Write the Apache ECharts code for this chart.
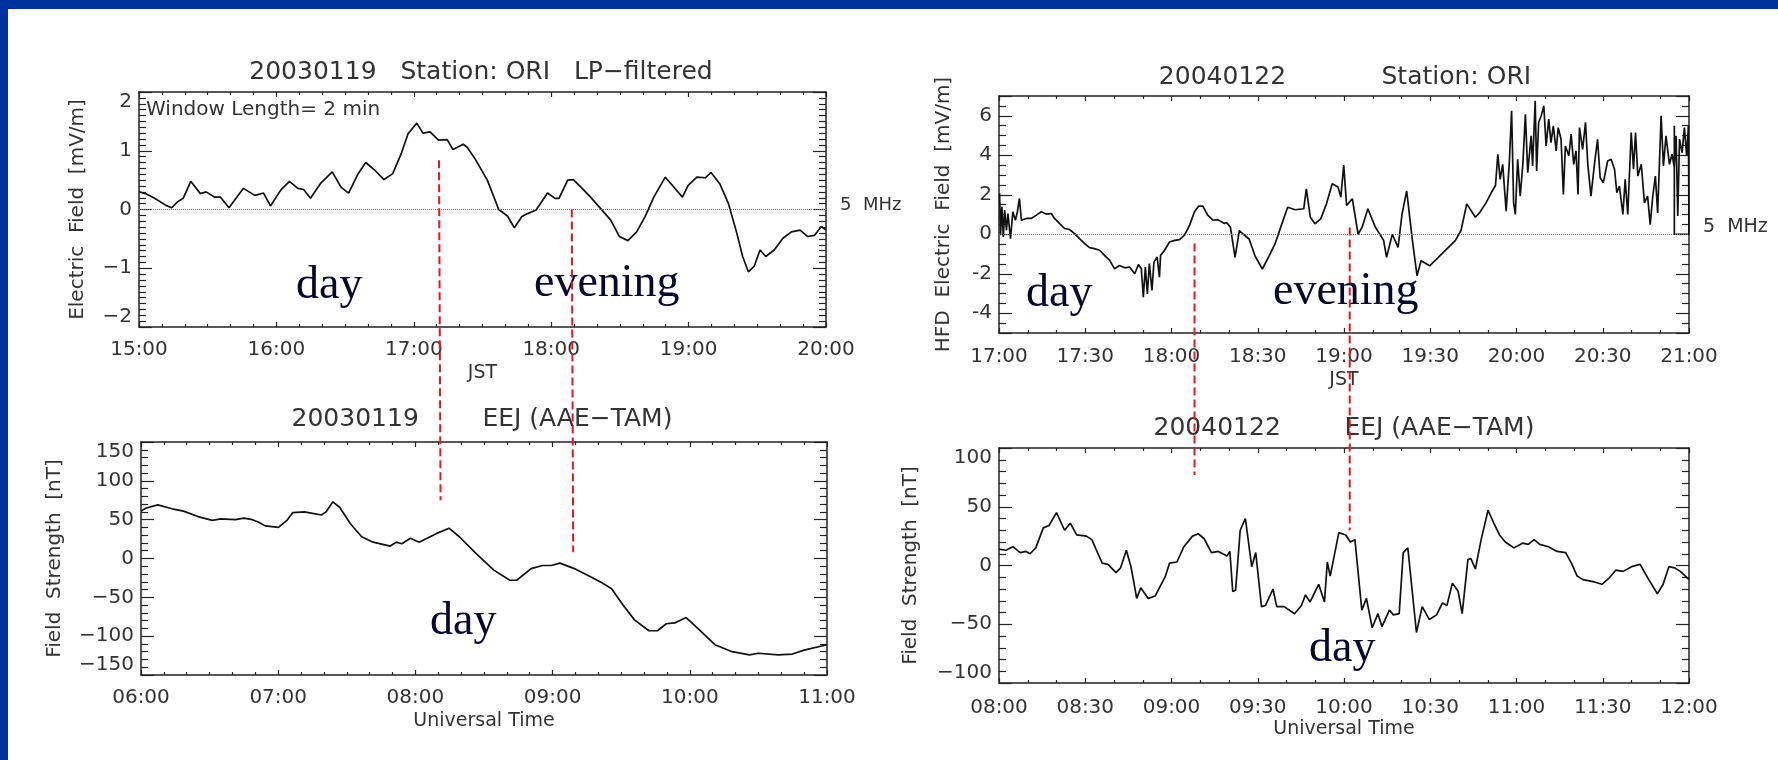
<!DOCTYPE html>
<html>
<head>
<meta charset="utf-8">
<title>ORI electric field and EEJ</title>
<script src="https://cdn.jsdelivr.net/npm/echarts@6/dist/echarts.min.js"></script>
<style>
  html, body { margin: 0; padding: 0; background: #003399; }
  #chart { position: absolute; left: 8px; top: 9px; width: 1770px; height: 751px; background: #fff; }
</style>
</head>
<body>
<div id="chart"></div>
<script>
// times are minutes of the day (JST for the upper panels, UT for the lower ones)

// 20030119 ORI, LP-filtered electric field [mV/m]
var tlTime = [900, 903, 906.8, 911.8, 914.3, 916.8, 919.3, 922.6, 926.8, 929.3,
  933.1, 935.6, 939.3, 945.6, 950.6, 954.4, 957.4, 961.9, 965.7, 969.4,
  971.9, 974.9, 979.4, 984.4, 988.2, 991.5, 995.7, 999, 1003.2, 1007,
  1010.8, 1014.5, 1017.5, 1021.3, 1024, 1027.1, 1030.8, 1034.6, 1037.1, 1041.6,
  1043.3, 1047.1, 1052.1, 1057.1, 1060.9, 1063.9, 1067.2, 1069.7, 1073.4, 1078.4,
  1081.7, 1083.4, 1087.2, 1089.7, 1093.5, 1097.2, 1102.2, 1106, 1109.8, 1113.5,
  1117.3, 1121, 1124.8, 1129.8, 1133.6, 1137.3, 1139.8, 1143.6, 1147.3, 1149.8,
  1153.6, 1157.4, 1161.1, 1163.6, 1166.1, 1168.6, 1171.2, 1173.7, 1177.4, 1181.2,
  1184.9, 1188.7, 1192, 1195, 1198, 1200];
var tlField = [0.30, 0.27, 0.19, 0.07, 0.03, 0.13, 0.19, 0.48, 0.27, 0.30,
  0.21, 0.21, 0.03, 0.36, 0.24, 0.28, 0.06, 0.33, 0.48, 0.36,
  0.34, 0.19, 0.45, 0.64, 0.38, 0.28, 0.61, 0.80, 0.66, 0.51,
  0.61, 0.95, 1.29, 1.47, 1.30, 1.32, 1.18, 1.19, 1.02, 1.11,
  1.06, 0.84, 0.50, 0.0, -0.11, -0.31, -0.12, -0.07, -0.01, 0.28,
  0.19, 0.19, 0.50, 0.51, 0.36, 0.21, -0.01, -0.18, -0.46, -0.53,
  -0.38, -0.12, 0.21, 0.55, 0.38, 0.21, 0.41, 0.55, 0.54, 0.63,
  0.44, 0.10, -0.41, -0.80, -1.06, -0.97, -0.69, -0.80, -0.69, -0.49,
  -0.38, -0.35, -0.46, -0.44, -0.29, -0.35];

// 20030119 EEJ (AAE-TAM) [nT]
var llTime = [360, 362.3, 367.3, 373.6, 378.6, 384.9, 391.2, 394.9, 401.2, 405,
  408.7, 411.3, 414.3, 420.1, 423.8, 426.3, 431.4, 435.1, 438.9, 440.9,
  443.9, 446.9, 451.5, 456.5, 461.5, 469, 471.6, 474.1, 477.8, 481.6,
  489.1, 494.7, 499.2, 506.7, 514.3, 521.3, 524.3, 530.6, 535.6, 539.4,
  543.2, 549.5, 557, 562, 565.8, 570.8, 575.8, 582.1, 585.9, 589.7,
  593.4, 598.4, 603.5, 611, 618.5, 626.1, 629.9, 638.6, 644.9, 650, 660];
var llEEJ = [61, 65, 69, 64, 61, 54, 49, 51, 50, 52,
  50, 47, 42, 40, 49, 59, 60, 58, 56, 60,
  73, 66, 45, 28, 21, 16, 21, 19, 26, 21,
  32, 39, 28, 6, -15, -28, -28, -13, -9, -9,
  -6, -13, -24, -32, -39, -60, -79, -93, -93, -84,
  -83, -76, -90, -111, -120, -124, -122, -124, -123, -118, -111];

// 20040122 ORI, HFD electric field [mV/m]
var trTime = [1020.2, 1020.55, 1021, 1021.5, 1021.95, 1022.6, 1023.1, 1024, 1024.8, 1025.7,
  1026.4, 1027.1, 1027.8, 1029.5, 1031.2, 1033, 1034.7, 1036.4, 1038.2, 1039.3,
  1041.1, 1042.8, 1044.5, 1046.3, 1048, 1049.8, 1051.5, 1053.2, 1055, 1056.7,
  1058.5, 1060.2, 1061.9, 1063.7, 1065.4, 1067.2, 1068.5, 1069.5, 1070.2, 1070.9,
  1071.6, 1072.3, 1073.2, 1073.9, 1075, 1075.8, 1076.2, 1077.6, 1079.3, 1081.1,
  1082.8, 1084.5, 1086.3, 1088, 1089.4, 1090.9, 1092.6, 1094.4, 1096.1, 1098.4,
  1099.1, 1100.5, 1102.1, 1103.6, 1105, 1107, 1109, 1111.6, 1114, 1116,
  1118, 1120.4, 1123, 1126, 1126.9, 1128.3, 1129.9, 1131.9, 1133.9, 1135.9,
  1137.9, 1138.9, 1139.9, 1140.9, 1142.9, 1144.9, 1146.3, 1148.3, 1150.9, 1153.8,
  1154.8, 1156.8, 1158.8, 1160.2, 1161.8, 1163.8, 1165.4, 1166.8, 1169.8, 1172.8,
  1175.7, 1178.7, 1180.7, 1182.7, 1185.7, 1187.1, 1189.4, 1191.2, 1192.7, 1193.5,
  1194.3, 1195.2, 1196.4, 1197.5, 1198.3, 1199, 1199.6, 1200.4, 1201.3, 1202.2,
  1203.1, 1203.9, 1205.1, 1205.6, 1206.5, 1207, 1207.7, 1208.6, 1209.5, 1210.3,
  1211.2, 1212, 1212.8, 1213.8, 1214.5, 1215.5, 1216.3, 1217, 1218.2, 1219,
  1219.9, 1220.7, 1221.4, 1221.9, 1223, 1224, 1224.8, 1225.9, 1227.1, 1228.2,
  1229.1, 1230.2, 1231.7, 1232.9, 1234.1, 1234.9, 1235.8, 1237, 1237.8, 1238.7,
  1239.9, 1240.7, 1241.4, 1242.2, 1243.4, 1244.5, 1245.6, 1246.5, 1247.4, 1248.3,
  1249.1, 1250.3, 1251.1, 1252, 1253.2, 1254.1, 1254.9, 1255.5, 1256.1, 1256.7,
  1257.6, 1258.4, 1259.2, 1259.8, 1260, 1260, 1254.9, 1254.9];
var trField = [2.07, 0.03, 1.39, -0.14, 1.22, 0.2, 1.05, -0.22, 1.14, 0.71,
  1.14, 1.81, 0.71, 0.8, 0.8, 0.97, 1.14, 1.02, 1.05, 0.8,
  0.54, 0.29, 0.24, 0.03, -0.22, -0.47, -0.68, -0.73, -0.81, -1.07,
  -1.32, -1.75, -1.58, -1.7, -1.66, -2.0, -1.53, -1.75, -3.19, -1.66,
  -3.02, -1.49, -2.85, -1.41, -1.15, -2.17, -1.07, -0.81, -0.39, -0.31,
  -0.27, -0.05, 0.46, 1.14, 1.42, 1.42, 0.97, 0.71, 0.74, 0.54,
  0.6, 0.36, -1.17, 0.19, 0, -0.24, -1.08, -1.76, -1.08, -0.49,
  0.36, 1.37, 1.24, 1.29, 2.3, 0.86, 0.53, 0.78, 1.54, 2.56,
  2.39, 1.88, 3.5, 1.46, 1.8, 0, 0.36, 1.29, 0.36, -0.32,
  -1.17, 0, -0.66, 1.03, 2.2, -0.32, -2.1, -1.34, -1.6, -1.17,
  -0.75, -0.32, 0.19, 1.54, 0.86, 1.08, 1.59, 2.10, 2.47, 4.05,
  2.78, 3.54, 1.17, 3.63, 6.25, 1.59, 1.0, 3.8, 1.93, 3.54,
  6.08, 3.12, 4.98, 3.46, 6.76, 3.2, 5.66, 6.0, 6.5, 4.47,
  5.83, 4.64, 5.49, 4.22, 5.4, 4.81, 2.02, 4.47, 3.97, 5.07,
  3.54, 4.22, 2.02, 5.4, 4.3, 5.66, 3.54, 1.93, 3.54, 4.81,
  2.86, 2.61, 3.71, 3.8, 3.29, 2.10, 2.44, 1.0, 2.78, 1.0,
  5.15, 3.29, 5.15, 2.95, 3.54, 1.59, 1.93, 0.49, 1.93, 2.95,
  1.08, 6.0, 3.46, 4.98, 3.54, 4.05, 3.37, 4.98, 0.92, 4.81,
  4.13, 5.4, 3.97, 5.5, 5.5, 0, 0, 5.5];

// 20040122 EEJ (AAE-TAM) [nT]
var lrTime = [480, 482.4, 484.8, 487.4, 489.4, 490.8, 492.8, 495.4, 497.4, 500,
  502.8, 504.8, 507, 510.4, 512.3, 513.9, 515.9, 517.9, 520.7, 522.3,
  524.3, 525.9, 527.9, 529.3, 531.9, 534.3, 537.9, 539.3, 541.9, 544.3,
  547.3, 549.3, 551.3, 553.9, 556.3, 559.3, 560.3, 561.3, 562.3, 563.9,
  565.7, 567.9, 569.3, 571.3, 572.7, 575.3, 576.6, 579.2, 582.8, 585.2,
  586.6, 588.2, 591.2, 593.2, 594.2, 595.2, 598.2, 600.6, 602.2, 603.8,
  606.2, 607.8, 609.8, 611.8, 613.2, 615.8, 617.2, 619.2, 620.6, 622.2,
  625.2, 627.2, 629.7, 632.2, 634.2, 635.8, 637.7, 639.7, 641.1, 643.1,
  644.1, 645.7, 647.7, 650.1, 652.1, 654.1, 656.1, 659.1, 662.1, 664.1,
  666.1, 668.1, 671.1, 674.1, 677.1, 679.1, 681.1, 683.1, 687.1, 689.7,
  692.1, 694.5, 697.1, 700, 703, 706, 709, 711, 713, 715, 717, 720];
var lrEEJ = [14, 13, 16, 11, 12, 10, 15, 32, 34, 45,
  30, 36, 26, 25, 22, 13, 2, 1, -6, -2,
  13, -1, -28, -19, -28, -26, -9, 2, 3, 16,
  25, 27, 23, 11, 12, 8, 12, -22, -21, 30,
  40, -1, 11, -35, -34, -20, -35, -35, -41, -34,
  -25, -31, -16, -31, 3, -9, 28, 26, 20, 22,
  -38, -28, -53, -41, -52, -38, -42, -41, 11, 15,
  -57, -35, -46, -42, -32, -34, -15, -22, -41, 5,
  6, -3, 22, 47, 36, 26, 20, 15, 19, 18,
  22, 18, 16, 12, 11, 2, -9, -12, -14, -16,
  -11, -4, -5, -1, 1, -12, -24, -16, -1, -2, -5, -12];

// red dashed markers (JST minutes); UT = JST - 9 h
var leftMarks = [1031, 1089];
var leftMarkTop = [0.84, 0.0];     // mV/m on the upper panel
var leftMarkBottom = [75, 8];      // nT on the lower panel
var rightMarks = [1088, 1142];
var rightMarkTop = [-0.47, 0.34];
var rightMarkBottom = [77, 30];
var jstOffset = 540;

var FONT = '"DejaVu Sans", sans-serif';
var INK = '#222';
var TXT = '#333';

function hhmm(v) {
  var h = Math.floor(v / 60), m = Math.round(v - h * 60);
  return (h < 10 ? '0' : '') + h + ':' + (m < 10 ? '0' : '') + m;
}
function minus(v) { return v < 0 ? '\u2212' + (-v) : String(v); }
function pairs(xs, ys) { return xs.map(function (x, i) { return [x, ys[i]]; }); }

function xAxes(grid, min, max, step, minor, name, gap, margin) {
  var base = {
    type: 'value', gridIndex: grid, min: min, max: max, interval: step,
    splitLine: { show: false },
    axisLine: { onZero: false, lineStyle: { color: INK, width: 1.5 } },
    axisTick: { inside: true, length: 5, lineStyle: { color: INK, width: 1.2 } },
    minorTick: { show: true, splitNumber: minor, length: 3, lineStyle: { color: INK, width: 1.2 } }
  };
  var bottom = Object.assign({}, base, {
    position: 'bottom',
    axisLabel: { margin: margin, color: TXT, fontFamily: FONT, fontSize: 20, formatter: hhmm },
    name: name, nameLocation: 'middle', nameGap: gap,
    nameTextStyle: { color: TXT, fontFamily: FONT, fontSize: 19 }
  });
  var top = Object.assign({}, base, { position: 'top', axisLabel: { show: false } });
  return [bottom, top];
}

function yAxes(grid, cfg) {
  var base = {
    type: 'value', gridIndex: grid, min: cfg.min, max: cfg.max,
    splitLine: { show: false },
    axisLine: { onZero: false, lineStyle: { color: INK, width: 1.5 } },
    axisTick: { inside: true, length: 13, lineStyle: { color: INK, width: 1.2 } },
    minorTick: { show: true, splitNumber: cfg.minor, length: 7, lineStyle: { color: INK, width: 1.2 } }
  };
  if (cfg.interval) base.interval = cfg.interval;
  if (cfg.splitNumber) base.splitNumber = cfg.splitNumber;
  var label = { margin: 7, color: TXT, fontFamily: FONT, fontSize: 20, formatter: cfg.fmt };
  if (cfg.hideEnds) { label.showMinLabel = false; label.showMaxLabel = false; }
  else { label.verticalAlignMaxLabel = 'top'; label.verticalAlignMinLabel = 'bottom'; }
  var left = Object.assign({}, base, {
    position: 'left', axisLabel: label,
    name: cfg.name, nameLocation: 'middle', nameGap: cfg.gap,
    nameTextStyle: { color: TXT, fontFamily: FONT, fontSize: 20 }
  });
  var right = Object.assign({}, base, { position: 'right', axisLabel: { show: false } });
  return [left, right];
}

var zeroLine = {
  silent: true, symbol: 'none', label: { show: false },
  lineStyle: { color: '#777', type: 'dotted', width: 1 },
  data: [{ yAxis: 0 }]
};

function trace(xi, yi, data, width, mark) {
  var s = {
    type: 'line', xAxisIndex: xi, yAxisIndex: yi, data: data,
    showSymbol: false, symbol: 'none', sampling: null,
    lineStyle: { color: '#111', width: width }, z: 3
  };
  if (mark) s.markLine = zeroLine;
  return s;
}

var xs = [].concat(
  xAxes(0, 900, 1200, 60, 6, 'JST', 37, 13),
  xAxes(1, 360, 660, 60, 6, 'Universal Time', 37, 13),
  xAxes(2, 1020, 1260, 30, 3, 'JST', 38, 14),
  xAxes(3, 480, 720, 30, 3, 'Universal Time', 37, 15)
);
var ys = [].concat(
  yAxes(0, { min: -2, max: 2, interval: 1, minor: 10, fmt: minus, name: 'Electric  Field  [mV/m]', gap: 51 }),
  yAxes(1, { min: -150, max: 150, interval: 50, minor: 5, fmt: minus, name: 'Field  Strength  [nT]', gap: 76 }),
  yAxes(2, { min: -5, max: 7, splitNumber: 6, minor: 4, hideEnds: true, name: 'HFD  Electric  Field  [mV/m]', gap: 45 }),
  yAxes(3, { min: -100, max: 100, interval: 50, minor: 5, fmt: minus, name: 'Field  Strength  [nT]', gap: 78 })
);

var chart = echarts.init(document.getElementById('chart'));
chart.setOption({
  animation: false,
  backgroundColor: '#fff',
  grid: [
    { left: 131, top: 83, width: 687, height: 235, outerBoundsMode: 'none' },
    { left: 133, top: 433, width: 686, height: 233, outerBoundsMode: 'none' },
    { left: 991, top: 87, width: 690, height: 237, outerBoundsMode: 'none' },
    { left: 991, top: 439, width: 690, height: 235, outerBoundsMode: 'none' }
  ],
  xAxis: xs,
  yAxis: ys,
  series: [
    trace(0, 0, pairs(tlTime, tlField), 1.7, true),
    trace(2, 2, pairs(llTime, llEEJ), 1.7, false),
    trace(4, 4, pairs(trTime, trField), 1.7, true),
    trace(6, 6, pairs(lrTime, lrEEJ), 1.7, false)
  ]
});

// text and dashed markers
function text(x, y, str, size, opts) {
  opts = opts || {};
  var font = size + 'px ' + (opts.family || FONT);
  return {
    type: 'text', x: x, y: y, z: 50, silent: true,
    style: {
      text: str, font: font, fill: opts.color || TXT,
      align: opts.align || 'center', textAlign: opts.align || 'center',
      verticalAlign: 'middle', textVerticalAlign: 'middle'
    }
  };
}
var SERIF = '"Liberation Serif", "Times New Roman", serif';
var NAVY = '#06062a';

var graphics = [
  text(473, 63, '20030119   Station: ORI   LP\u2212filtered', 25),
  text(1337, 68, '20040122            Station: ORI', 25),
  text(474, 410, '20030119        EEJ (AAE\u2212TAM)', 25),
  text(1336, 419, '20040122        EEJ (AAE\u2212TAM)', 25),
  text(138, 101, 'Window Length= 2 min', 20, { align: 'left' }),
  text(832, 196, '5  MHz', 18, { align: 'left' }),
  text(1695, 218, '5  MHz', 19, { align: 'left' }),
  text(288, 277, 'day', 46, { align: 'left', family: SERIF, color: NAVY }),
  text(526, 275, 'evening', 46, { align: 'left', family: SERIF, color: NAVY }),
  text(1018, 285, 'day', 46, { align: 'left', family: SERIF, color: NAVY }),
  text(1265, 283, 'evening', 46, { align: 'left', family: SERIF, color: NAVY }),
  text(422, 613, 'day', 46, { align: 'left', family: SERIF, color: NAVY }),
  text(1301, 640, 'day', 46, { align: 'left', family: SERIF, color: NAVY })
];

function dashes(marks, tops, bottoms, upper, lower) {
  marks.forEach(function (t, i) {
    var a = chart.convertToPixel({ xAxisIndex: upper, yAxisIndex: upper }, [t, tops[i]]);
    var b = chart.convertToPixel({ xAxisIndex: lower, yAxisIndex: lower }, [t - jstOffset, bottoms[i]]);
    graphics.push({
      type: 'line', z: 60, silent: true,
      shape: { x1: a[0], y1: a[1], x2: b[0], y2: b[1] },
      style: { stroke: '#e5161c', lineWidth: 2, lineDash: [8, 4] }
    });
  });
}
dashes(leftMarks, leftMarkTop, leftMarkBottom, 0, 2);
dashes(rightMarks, rightMarkTop, rightMarkBottom, 4, 6);

chart.setOption({ graphic: graphics });
</script>
</body>
</html>
